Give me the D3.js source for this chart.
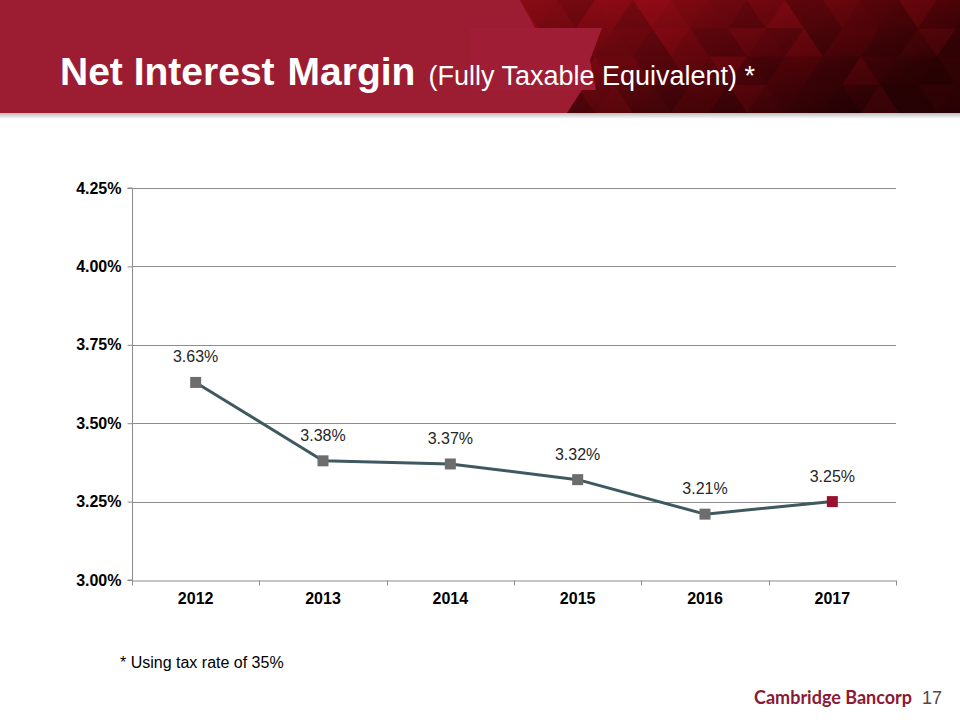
<!DOCTYPE html>
<html><head><meta charset="utf-8">
<script src="https://cdn.jsdelivr.net/npm/d3@7"></script>
<style>body{margin:0;background:#fff}svg{display:block}</style>
</head><body><svg id="c" width="960" height="720"></svg>
<script>
// ---- data ----
const years = ["2012", "2013", "2014", "2015", "2016", "2017"];
const nim = [3.63, 3.38, 3.37, 3.32, 3.21, 3.25];
const yTicks = [3.00, 3.25, 3.50, 3.75, 4.00, 4.25];
const titleMain = ["Net Interest", "Margin"];
const titleSub = "(Fully Taxable Equivalent) *";
const footnote = "* Using tax rate of 35%";
const brand = "Cambridge Bancorp";
const pageNum = "17";

const svg = d3.select("#c");
const defs = svg.append("defs");

// ---- header ----
const hdrH = 113;
svg.append("rect").attr("x", 0).attr("y", 0).attr("width", 960).attr("height", hdrH).attr("fill", "#9c1c32");
// slightly lighter band
svg.append("path").attr("d", "M470,28 L600,28 L585,90 L470,90 Z").attr("fill", "#a8223a").attr("opacity", 0.4);

const g1 = defs.append("linearGradient").attr("id", "dark").attr("x1", 0).attr("x2", 1).attr("y1", 0).attr("y2", 0.35);
g1.append("stop").attr("offset", 0).attr("stop-color", "#9a0d18");
g1.append("stop").attr("offset", 0.4).attr("stop-color", "#820912");
g1.append("stop").attr("offset", 0.75).attr("stop-color", "#5e050b");
g1.append("stop").attr("offset", 1).attr("stop-color", "#3e0306");

const g2 = defs.append("linearGradient").attr("id", "vdark").attr("x1", 0).attr("x2", 0).attr("y1", 0).attr("y2", 1);
g2.append("stop").attr("offset", 0).attr("stop-color", "#000").attr("stop-opacity", 0);
g2.append("stop").attr("offset", 1).attr("stop-color", "#000").attr("stop-opacity", 0.3);

defs.append("clipPath").attr("id", "hclip").append("path")
  .attr("d", "M520,0 L960,0 L960,113 L567,113 L582,90 L596,90 L590,60 L602,28 L535,28 Z");

const hg = svg.append("g").attr("clip-path", "url(#hclip)");
hg.append("rect").attr("x", 500).attr("y", 0).attr("width", 460).attr("height", hdrH).attr("fill", "url(#dark)");

const tw = 38, th = hdrH / 4;
const shades = [0.06, 0.16, 0.02, 0.20, 0.10, 0.0, 0.17, 0.04, 0.12];
const tris = [];
for (let r = 0; r < 4; r++) {
  for (let k = 0; k < 30; k++) {
    const x = 500 + k * tw / 2 - (r % 2) * tw / 2;
    const y = r * th;
    const up = k % 2 === 0;
    const pts = up ? [[x, y + th], [x + tw / 2, y], [x + tw, y + th]]
                   : [[x, y], [x + tw, y], [x + tw / 2, y + th]];
    tris.push({pts, s: shades[(k * 4 + r * 7) % shades.length], light: (k * 2 + r * 3) % 7 === 0});
  }
}
hg.selectAll("polygon.tri").data(tris).join("polygon")
  .attr("points", d => d.pts.map(p => p.join(",")).join(" "))
  .attr("fill", d => d.light ? "#b80e1c" : "#000")
  .attr("fill-opacity", d => d.light ? 0.14 : d.s);
hg.append("rect").attr("x", 500).attr("y", 0).attr("width", 460).attr("height", hdrH).attr("fill", "url(#vdark)");

// header bottom shadow
const sg = defs.append("linearGradient").attr("id", "shadow").attr("x1", 0).attr("x2", 0).attr("y1", 0).attr("y2", 1);
sg.append("stop").attr("offset", 0).attr("stop-color", "#bdbdbd");
sg.append("stop").attr("offset", 1).attr("stop-color", "#ffffff");
svg.append("rect").attr("x", 0).attr("y", hdrH).attr("width", 960).attr("height", 6).attr("fill", "url(#shadow)");

// title
const title = svg.append("text").attr("x", 60).attr("y", 85)
  .attr("font-family", "Liberation Sans, Arial, sans-serif").attr("fill", "#fff");
title.append("tspan").attr("font-weight", "bold").attr("font-size", 39).text(titleMain[0]);
title.append("tspan").attr("font-weight", "bold").attr("font-size", 39).attr("dx", 13).text(titleMain[1]);
title.append("tspan").attr("font-size", 27).attr("dx", 13).text(titleSub);

// ---- chart ----
const x = d3.scaleBand().domain(years).range([132, 896]).padding(0);
const y = d3.scaleLinear().domain([3.0, 4.25]).range([580, 188]);

const font = "Liberation Sans, Arial, sans-serif";
const gridCol = "#8c8c8c";

// grid
svg.append("g").selectAll("line").data(yTicks.slice(1)).join("line")
  .attr("x1", 132).attr("x2", 896)
  .attr("y1", d => Math.round(y(d)) + 0.5).attr("y2", d => Math.round(y(d)) + 0.5)
  .attr("stroke", gridCol).attr("stroke-width", 1);

// y axis
const yAxis = svg.append("g").attr("transform", "translate(132.5,0)")
  .call(d3.axisLeft(y).tickValues(yTicks).tickSize(5).tickPadding(6).tickFormat(d => d.toFixed(2) + "%"));
yAxis.selectAll("line").attr("stroke", gridCol);
yAxis.select(".domain").attr("stroke", gridCol).attr("d", `M-5,${y(4.25)}H0V${y(3.0)}H-5`);
yAxis.selectAll("text").attr("font-family", font).attr("font-size", 16).attr("font-weight", "bold").attr("fill", "#000");

// x axis
const xAxis = svg.append("g").attr("transform", "translate(0,580.5)")
  .call(d3.axisBottom(x).tickSize(0).tickPadding(12));
xAxis.select(".domain").attr("stroke", gridCol);
xAxis.selectAll("text").attr("font-family", font).attr("font-size", 16).attr("font-weight", "bold").attr("fill", "#000");
const bounds = years.map(d => x(d)).concat([x(years[years.length - 1]) + x.bandwidth()]);
xAxis.selectAll("line.bnd").data(bounds).join("line").attr("class", "bnd")
  .attr("x1", d => Math.round(d) + 0.5).attr("x2", d => Math.round(d) + 0.5)
  .attr("y1", 0).attr("y2", 5).attr("stroke", gridCol);

// line
const pts = years.map((yr, i) => ({yr, v: nim[i], i}));
const cx = d => x(d.yr) + x.bandwidth() / 2;
svg.append("path").datum(pts)
  .attr("d", d3.line().x(cx).y(d => y(d.v)))
  .attr("fill", "none").attr("stroke", "#3f5960").attr("stroke-width", 3).attr("stroke-linejoin", "round");

// markers
const ms = 11;
svg.append("g").selectAll("rect").data(pts).join("rect")
  .attr("x", d => cx(d) - ms / 2).attr("y", d => y(d.v) - ms / 2)
  .attr("width", ms).attr("height", ms)
  .attr("fill", d => d.i === pts.length - 1 ? "#9b1030" : "#6d6d6d");

// labels
svg.append("g").selectAll("text").data(pts).join("text")
  .attr("x", cx).attr("y", d => y(d.v) - 20)
  .attr("text-anchor", "middle").attr("font-family", font).attr("font-size", 16)
  .attr("fill", "#262626").text(d => d.v.toFixed(2) + "%");

// footnote
svg.append("text").attr("x", 120).attr("y", 668).attr("font-family", font).attr("font-size", 16)
  .attr("fill", "#000").text(footnote);

// brand
svg.append("text").attr("x", 912).attr("y", 704).attr("text-anchor", "end")
  .attr("font-family", "Lato, 'Open Sans', sans-serif").attr("font-weight", "bold").attr("font-size", 18)
  .attr("fill", "#8b1a35").text(brand);
svg.append("text").attr("x", 922).attr("y", 704)
  .attr("font-family", font).attr("font-size", 18).attr("fill", "#4a4a4a").text(pageNum);
</script></body></html>
